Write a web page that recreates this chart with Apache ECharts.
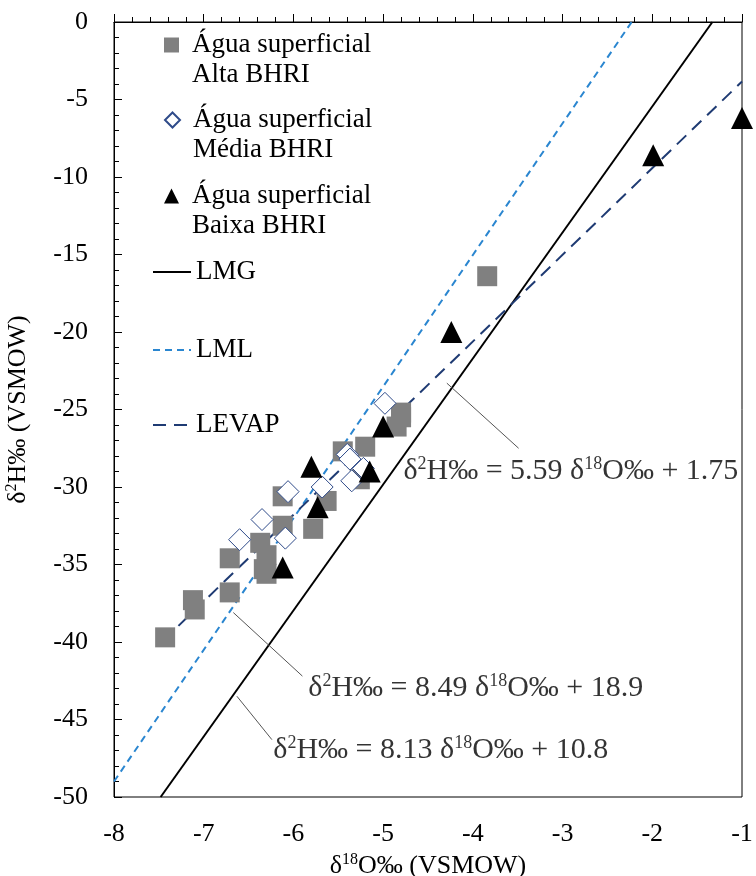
<!DOCTYPE html>
<html>
<head>
<meta charset="utf-8">
<script src="https://cdn.jsdelivr.net/npm/echarts@6.0.0/dist/echarts.min.js"></script>
<style>
html, body { margin: 0; padding: 0; background: #fff; }
#chart { width: 756px; height: 876px; }
</style>
</head>
<body>
<div id="chart"></div>
<script>
// [δ18O, δ2H]
const altaBHRI = [
    [-7.43, -39.7], [-7.12, -37.3], [-7.1, -37.9], [-6.71, -36.8], [-6.71, -34.6],
    [-6.37, -33.6], [-6.3, -34.4], [-6.33, -35.3], [-6.3, -35.6], [-6.12, -32.5],
    [-6.12, -30.6], [-5.78, -32.7], [-5.63, -30.9], [-5.45, -27.7], [-5.2, -27.4],
    [-5.26, -29.5], [-4.85, -26.1], [-4.8, -25.2], [-4.8, -25.5], [-3.84, -16.4]
]
const mediaBHRI = [
    [-6.6, -33.4], [-6.35, -32.1], [-6.09, -33.3], [-6.06, -30.3], [-5.68, -30.0],
    [-5.4, -27.9], [-5.37, -28.2], [-5.22, -28.8], [-5.35, -29.6], [-4.98, -24.6]
]
const baixaBHRI = [
    [-6.12, -35.2], [-5.73, -31.3], [-5.8, -28.7], [-5.15, -29.0], [-5.0, -26.1],
    [-4.24, -20.0], [-1.99, -8.6], [-1.0, -6.2]
]

// end points of the three reference lines
const lmgEnds = [[-7.48, -50], [-1.33, 0]]
const lmlEnds = [[-8, -49.0], [-2.23, 0]]
const levapEnds = [[-7.45, -39.9], [-1, -3.84]]

// equation labels: slope, intercept, where the text starts, leader line
const eqSlope = ['5.59', '8.49', '8.13']
const eqIntercept = ['1.75', '18.9', '10.8']
const eqPos = [[-4.78, -29.0], [-5.84, -43.0], [-6.23, -47.0]]
const leaders = [
    [[-4.29, -23.3], [-3.49, -27.5]],
    [[-6.67, -38.1], [-5.90, -42.2]],
    [[-6.63, -43.5], [-6.24, -46.3]]
]

const names = ['Água superficial\nAlta BHRI', 'Água superficial\nMédia BHRI', 'Água superficial\nBaixa BHRI']
const serif = "'Liberation Serif', 'Times New Roman', serif"

const rich = {
    n: { fontFamily: serif, fontSize: 26, color: '#000', lineHeight: 28 },
    s: { fontFamily: serif, fontSize: 16, color: '#000', verticalAlign: 'top', lineHeight: 28 }
}
const eqRich = {
    n: { fontFamily: serif, fontSize: 30, color: '#000', lineHeight: 33 },
    s: { fontFamily: serif, fontSize: 18, color: '#000', verticalAlign: 'top', lineHeight: 33 }
}

function eqLabel(i) {
    return '{n|δ}{s|2}{n|H‰ = ' + eqSlope[i] + ' δ}{s|18}{n|O‰ + ' + eqIntercept[i] + '}'
}

function scatterLegend(name, top) {
    return {
        data: [name],
        top: top,
        left: 164,
        padding: 0,
        itemWidth: 15,
        itemHeight: 15,
        selectedMode: false,
        formatter: function (n) { return ' \n' + n },
        textStyle: { fontFamily: serif, fontSize: 27, color: '#000', lineHeight: 30, padding: [0, 0, 0, 8] }
    }
}

function lineLegend(name, top) {
    return {
        data: [name],
        top: top,
        left: 152,
        padding: 0,
        itemWidth: 38,
        itemHeight: 14,
        selectedMode: false,
        itemStyle: { color: 'rgba(0,0,0,0)', borderColor: 'rgba(0,0,0,0)', opacity: 0 },
        textStyle: { fontFamily: serif, fontSize: 27, color: '#000', lineHeight: 30 }
    }
}

const chart = echarts.init(document.getElementById('chart'))

let option = {
    animation: false,
    backgroundColor: '#fff',
    textStyle: { fontFamily: serif },
    grid: {
        left: 114, right: 14, top: 22, bottom: 79,
        outerBoundsMode: 'none',
        containLabel: false,
        show: true, borderColor: '#000', borderWidth: 1
    },
    legend: [
        scatterLegend(names[0], 0),
        scatterLegend(names[1], 75),
        scatterLegend(names[2], 151),
        lineLegend('LMG', 257),
        lineLegend('LML', 335),
        lineLegend('LEVAP', 410)
    ],
    xAxis: {
        type: 'value',
        min: -8, max: -1, interval: 1,
        name: '{n|δ}{s|18}{n|O‰ (VSMOW)}',
        nameLocation: 'middle',
        nameGap: 36,
        nameTextStyle: { rich: rich },
        axisLine: { lineStyle: { color: '#000', width: 1 } },
        axisTick: { inside: true, length: 8, lineStyle: { color: '#000' } },
        minorTick: { show: true, splitNumber: 5, length: 5, lineStyle: { color: '#000' } },
        axisLabel: { color: '#000', fontFamily: serif, fontSize: 26, margin: 24 },
        splitLine: { show: false }
    },
    yAxis: {
        type: 'value',
        min: -50, max: 0, interval: 5,
        name: '{n|δ}{s|2}{n|H‰ (VSMOW)}',
        nameLocation: 'middle',
        nameRotate: 90,
        nameGap: 82,
        nameTextStyle: { rich: rich },
        axisLine: { lineStyle: { color: '#000', width: 1 } },
        axisTick: { inside: true, length: 8, lineStyle: { color: '#000' } },
        minorTick: { show: true, splitNumber: 5, length: 5, lineStyle: { color: '#000' } },
        axisLabel: { color: '#000', fontFamily: serif, fontSize: 26, margin: 26 },
        splitLine: { show: false }
    },
    series: [
        {
            name: 'LMG', type: 'line', data: lmgEnds, symbol: 'none', silent: true, z: 2,
            lineStyle: { color: '#000', width: 2, type: 'solid' }, itemStyle: { color: '#000' }
        },
        {
            name: 'LML', type: 'line', data: lmlEnds, symbol: 'none', silent: true, z: 2,
            lineStyle: { color: '#2A86D0', width: 2, type: [7, 5] }, itemStyle: { color: '#2A86D0' }
        },
        {
            name: 'LEVAP', type: 'line', data: levapEnds, symbol: 'none', silent: true, z: 2,
            lineStyle: { color: '#1F3B73', width: 2, type: [13, 8] }, itemStyle: { color: '#1F3B73' }
        },
        {
            name: names[0], type: 'scatter', data: altaBHRI, symbol: 'rect', symbolSize: 20, z: 3,
            itemStyle: { color: '#808080', opacity: 1 }
        },
        {
            name: names[1], type: 'scatter', data: mediaBHRI, symbol: 'diamond', symbolSize: 22, z: 4,
            itemStyle: { color: '#fff', borderColor: '#2F4B8A', borderWidth: 1, opacity: 1 }
        },
        {
            name: names[2], type: 'scatter', data: baixaBHRI, symbol: 'triangle', symbolSize: 22, z: 5,
            itemStyle: { color: '#000', opacity: 1 }
        }
    ]
}

leaders.forEach(function (seg, i) {
    option.series.push({
        name: 'leader' + i, type: 'line', data: seg, symbol: 'none', silent: true, z: 6,
        lineStyle: { color: '#555', width: 1 }
    })
})

option.series.push({
    name: 'equations', type: 'scatter', data: eqPos, symbolSize: 1, silent: true, z: 7,
    itemStyle: { color: 'rgba(0,0,0,0)' },
    label: {
        show: true, position: 'right', distance: 0,
        formatter: function (p) { return eqLabel(p.dataIndex) },
        rich: eqRich
    }
})

chart.setOption(option)
</script>
</body>
</html>
